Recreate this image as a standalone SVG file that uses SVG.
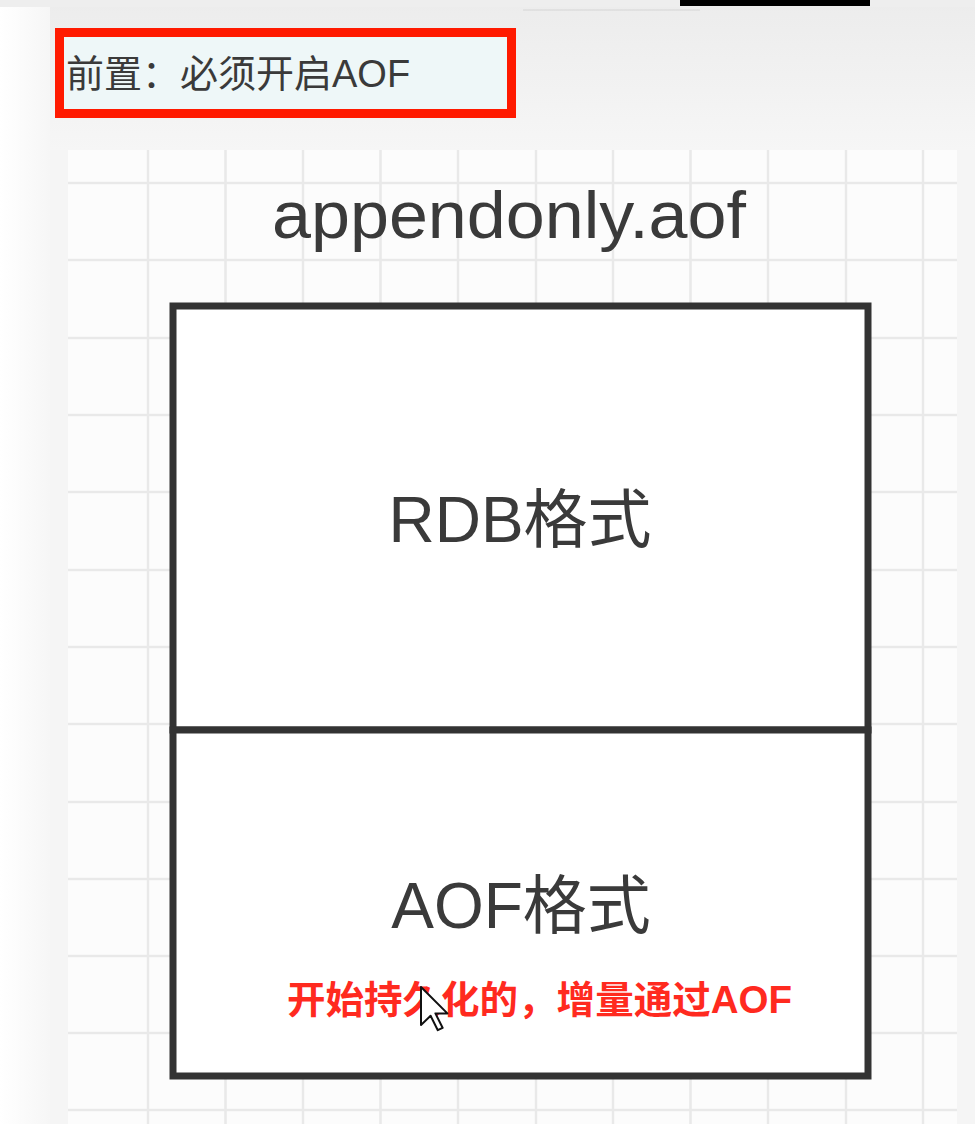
<svg xmlns="http://www.w3.org/2000/svg" width="975" height="1124" viewBox="0 0 975 1124">
  <defs>
    <linearGradient id="bgLeft" x1="0" y1="0" x2="1" y2="0">
      <stop offset="0" stop-color="#ffffff"/>
      <stop offset="1" stop-color="#f6f6f6"/>
    </linearGradient>
    <linearGradient id="bgTop" x1="0" y1="0" x2="0" y2="1">
      <stop offset="0" stop-color="#ececec"/>
      <stop offset="1" stop-color="#f6f6f6"/>
    </linearGradient>
  </defs>
  <style>
    .grid line { stroke: #e9e9e9; stroke-width: 2.5; }
    .box { fill: #ffffff; stroke: #333333; stroke-width: 7; }
    .lbl { font-family: "Liberation Sans", "Noto Sans CJK SC", sans-serif; fill: #3a3a3a; }
    .big { font-size: 64px; text-anchor: middle; }
  </style>

  <!-- page background -->
  <rect x="0" y="0" width="975" height="1124" fill="#f5f5f5"/>
  <rect x="0" y="0" width="975" height="150" fill="url(#bgTop)"/>
  <rect x="0" y="0" width="50" height="1124" fill="url(#bgLeft)"/>
  <rect x="0" y="0" width="975" height="7" fill="#eeeeee"/>
  <rect x="680" y="0" width="190" height="6" fill="#000000"/>
  <line x1="523" y1="10" x2="700" y2="10" stroke="#dddddd" stroke-width="1.5"/>

  <!-- grid canvas -->
  <rect x="68" y="150" width="889" height="974" fill="#fcfcfc"/>
  <g class="grid">
    <line x1="148" y1="150" x2="148" y2="1124"/>
    <line x1="225.5" y1="150" x2="225.5" y2="1124"/>
    <line x1="303" y1="150" x2="303" y2="1124"/>
    <line x1="380.5" y1="150" x2="380.5" y2="1124"/>
    <line x1="458" y1="150" x2="458" y2="1124"/>
    <line x1="536" y1="150" x2="536" y2="1124"/>
    <line x1="613" y1="150" x2="613" y2="1124"/>
    <line x1="690.5" y1="150" x2="690.5" y2="1124"/>
    <line x1="768" y1="150" x2="768" y2="1124"/>
    <line x1="846" y1="150" x2="846" y2="1124"/>
    <line x1="923" y1="150" x2="923" y2="1124"/>
    <line x1="68" y1="183" x2="957" y2="183"/>
    <line x1="68" y1="260" x2="957" y2="260"/>
    <line x1="68" y1="338" x2="957" y2="338"/>
    <line x1="68" y1="415" x2="957" y2="415"/>
    <line x1="68" y1="492" x2="957" y2="492"/>
    <line x1="68" y1="570" x2="957" y2="570"/>
    <line x1="68" y1="647" x2="957" y2="647"/>
    <line x1="68" y1="724" x2="957" y2="724"/>
    <line x1="68" y1="802" x2="957" y2="802"/>
    <line x1="68" y1="879" x2="957" y2="879"/>
    <line x1="68" y1="956" x2="957" y2="956"/>
    <line x1="68" y1="1033" x2="957" y2="1033"/>
    <line x1="68" y1="1110" x2="957" y2="1110"/>
  </g>

  <!-- prerequisite note -->
  <g id="prereq">
    <rect x="59.5" y="32.5" width="452" height="81" fill="#eef7f8" stroke="#ff1a00" stroke-width="9"/>
    <text class="lbl" x="66" y="87" font-size="38" fill="#2b2b2b">前置：必须开启AOF</text>
  </g>

  <!-- file label -->
  <g id="file-label">
    <text class="lbl" x="509" y="238" font-size="67" text-anchor="middle" textLength="474" lengthAdjust="spacingAndGlyphs">appendonly.aof</text>
  </g>

  <!-- RDB section -->
  <g id="rdb-section">
    <rect class="box" x="173" y="306" width="695" height="424"/>
    <text class="lbl big" x="520" y="542">RDB格式</text>
  </g>

  <!-- AOF section -->
  <g id="aof-section">
    <rect class="box" x="173" y="730" width="695" height="346"/>
    <text class="lbl big" x="521" y="928">AOF格式</text>
    <text x="287" y="1013" font-family="Liberation Sans, Noto Sans CJK SC, sans-serif" font-size="38" font-weight="bold" fill="#ff2a1f" textLength="505" lengthAdjust="spacingAndGlyphs">开始持久化的，增量通过AOF</text>
  </g>

  <!-- connectors (none in this diagram) -->
  <g id="connectors"></g>

  <!-- mouse cursor -->
  <polygon points="421,987 421,1025 430.6,1015.8 437.8,1030.2 442.6,1027.8 435.4,1013.4 447.4,1013.4" fill="#ffffff" stroke="#111111" stroke-width="2" stroke-linejoin="round"/>
</svg>
